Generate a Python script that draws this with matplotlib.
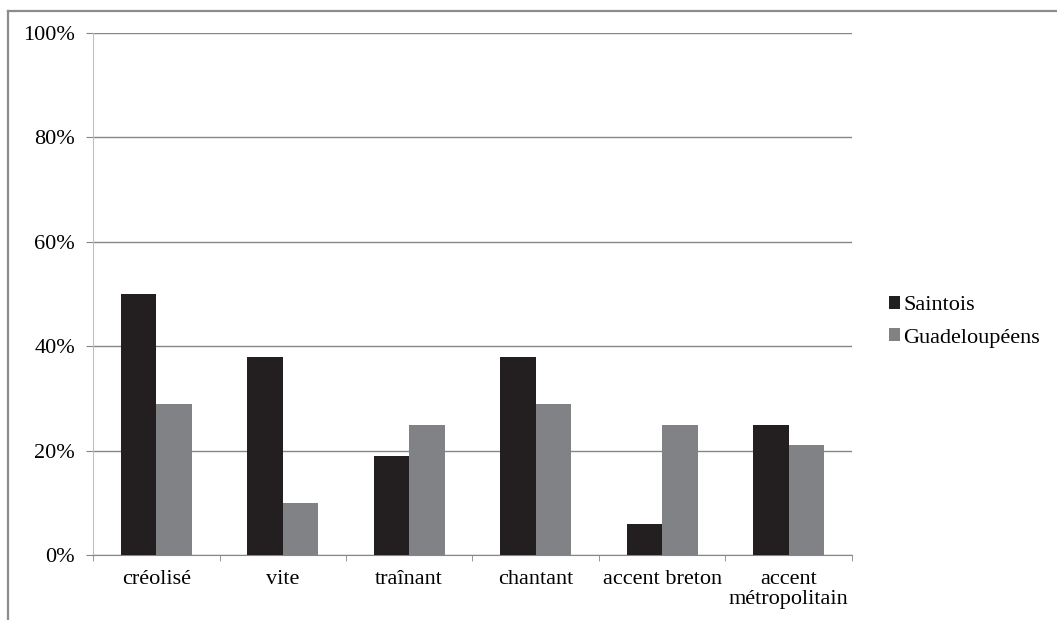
import numpy as np
import matplotlib
matplotlib.use("Agg")
import matplotlib.pyplot as plt
from matplotlib.lines import Line2D

# === DATA ===
categories = ["créolisé", "vite", "traînant", "chantant", "accent breton", "accent\nmétropolitain"]
saintois = [50, 38, 19, 38, 6, 25]
guadeloupeens = [29, 10, 25, 29, 25, 21]
series_names = ["Saintois", "Guadeloupéens"]
y_ticks = [0, 20, 40, 60, 80, 100]

plt.rcParams["font.family"] = "serif"
plt.rcParams["font.serif"] = ["Liberation Serif", "Times New Roman", "DejaVu Serif"]

fig = plt.figure(figsize=(10.57, 6.2), dpi=100)
ax = fig.add_axes([0.088, 0.1048, 0.718, 0.842])

x = np.arange(len(categories))
w = 0.282
ax.bar(x - w / 2, saintois, width=w, color="#231f20", label=series_names[0], zorder=3)
ax.bar(x + w / 2, guadeloupeens, width=w, color="#808285", label=series_names[1], zorder=3)

ax.set_xlim(-0.5, len(categories) - 0.5)
ax.set_ylim(0, 100)
ax.set_yticks(y_ticks)
ax.set_yticklabels([f"{v}%" for v in y_ticks], fontsize=16)
ax.yaxis.grid(True, color="#868686", linewidth=1, zorder=0)

ax.set_xticks(x)
ax.set_xticklabels(categories, fontsize=16, linespacing=1.05)
ax.set_xticks(np.arange(len(categories) + 1) - 0.5, minor=True)
ax.tick_params(axis="x", which="major", length=0, pad=11)
ax.tick_params(axis="x", which="minor", length=4, color="#868686", direction="out")
ax.tick_params(axis="y", length=5, color="#868686", pad=8)

for s in ["top", "right"]:
    ax.spines[s].set_visible(False)
ax.spines["left"].set_color("#bfbfbf")
ax.spines["bottom"].set_color("#868686")

leg = ax.legend(loc="center left", bbox_to_anchor=(0.822, 0.481), bbox_transform=fig.transFigure,
                frameon=False, fontsize=16, handlelength=0.5, handleheight=0.5,
                handletextpad=0.15, labelspacing=0.6)

# frame lines around the picture (top and left only)
fig.add_artist(Line2D([8 / 1057, 1.0], [1 - 11 / 620, 1 - 11 / 620], color="#8c8c8c", lw=1.6))
fig.add_artist(Line2D([8 / 1057, 8 / 1057], [0, 1 - 11 / 620], color="#8c8c8c", lw=1.6))

fig.savefig("out.png", dpi=100)
